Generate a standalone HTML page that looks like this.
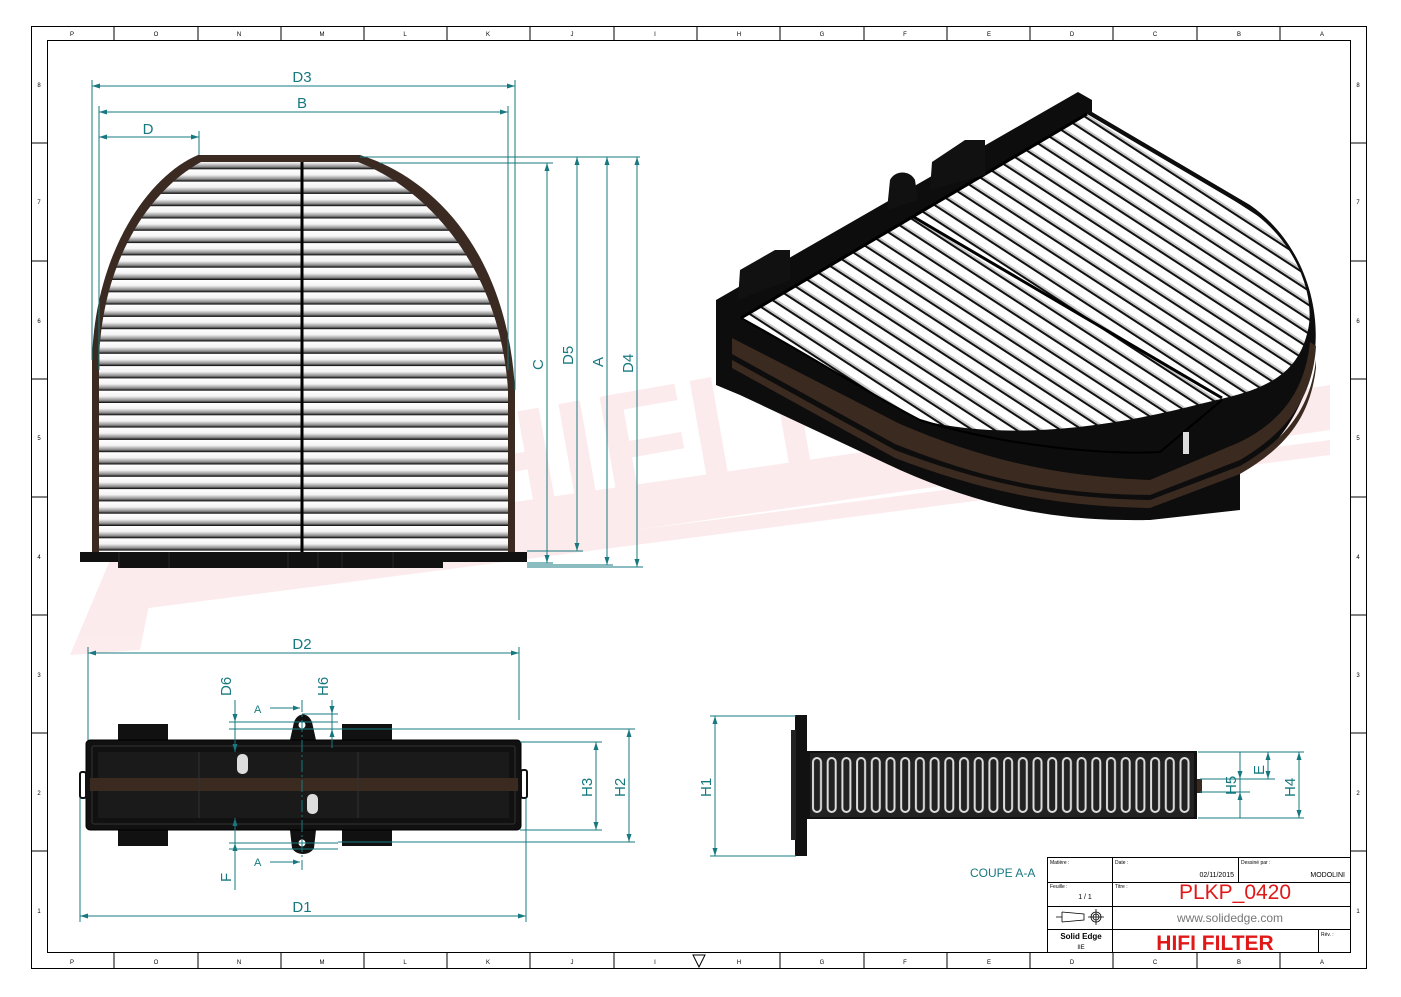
<!DOCTYPE html>
<html><head><meta charset="utf-8"><style>
html,body{margin:0;padding:0;background:#fff}
svg{display:block}
text{font-family:"Liberation Sans",sans-serif}
</style></head><body>
<svg width="1401" height="997" viewBox="0 0 1401 997" xmlns="http://www.w3.org/2000/svg">
<defs>
<linearGradient id="pg" x1="0" y1="0" x2="0" y2="1">
<stop offset="0" stop-color="#fff"/><stop offset="0.45" stop-color="#f4f4f4"/><stop offset="0.8" stop-color="#8a8a8a"/><stop offset="0.92" stop-color="#333"/><stop offset="1" stop-color="#000"/>
</linearGradient>
<pattern id="pleat" x="0" y="157" width="20" height="12.3" patternUnits="userSpaceOnUse">
<rect width="20" height="12.3" fill="url(#pg)"/>
</pattern>
<pattern id="iso" width="12" height="12" patternUnits="userSpaceOnUse" patternTransform="rotate(33)">
<rect width="12" height="12" fill="#fff"/><rect y="8" width="12" height="2" fill="#c8c8c8"/><rect y="10" width="12" height="2" fill="#111"/>
</pattern>
<pattern id="sec" x="810" y="753" width="14.7" height="64" patternUnits="userSpaceOnUse">
<rect width="14.7" height="64" fill="#222"/>
<rect x="3" y="5" width="8" height="54" rx="4" fill="none" stroke="#ddd" stroke-width="2"/>
</pattern>
<clipPath id="arch"><path d="M99 552 L99 360 C102 260 150 190 201 162 L358 162 C430 190 500 270 508 390 L508 552 Z"/></clipPath>
</defs>

<!-- watermark -->
<g opacity="0.08" fill="#e0102a">
<polygon points="70,655 110,560 1330,385 1330,430 150,600 140,650"/>
<polygon points="95,600 1330,440 1330,455 95,615"/>
<text x="440" y="500" font-size="150" font-weight="bold" font-family="Liberation Serif,serif" transform="rotate(-10 600 400)">HIFI FILTER</text>
</g>

<!-- borders -->
<rect x="31.5" y="26.5" width="1335" height="942" fill="none" stroke="#000"/>
<rect x="47.5" y="40.5" width="1303" height="912" fill="none" stroke="#000"/>
<g stroke="#000">
<line x1="114" y1="26" x2="114" y2="40"/><line x1="198" y1="26" x2="198" y2="40"/><line x1="281" y1="26" x2="281" y2="40"/><line x1="364" y1="26" x2="364" y2="40"/><line x1="447" y1="26" x2="447" y2="40"/><line x1="530" y1="26" x2="530" y2="40"/><line x1="614" y1="26" x2="614" y2="40"/><line x1="697" y1="26" x2="697" y2="40"/><line x1="780" y1="26" x2="780" y2="40"/><line x1="864" y1="26" x2="864" y2="40"/><line x1="947" y1="26" x2="947" y2="40"/><line x1="1030" y1="26" x2="1030" y2="40"/><line x1="1113" y1="26" x2="1113" y2="40"/><line x1="1197" y1="26" x2="1197" y2="40"/><line x1="1280" y1="26" x2="1280" y2="40"/>
<line x1="114" y1="953" x2="114" y2="969"/><line x1="198" y1="953" x2="198" y2="969"/><line x1="281" y1="953" x2="281" y2="969"/><line x1="364" y1="953" x2="364" y2="969"/><line x1="447" y1="953" x2="447" y2="969"/><line x1="530" y1="953" x2="530" y2="969"/><line x1="614" y1="953" x2="614" y2="969"/><line x1="780" y1="953" x2="780" y2="969"/><line x1="864" y1="953" x2="864" y2="969"/><line x1="947" y1="953" x2="947" y2="969"/><line x1="1030" y1="953" x2="1030" y2="969"/><line x1="1113" y1="953" x2="1113" y2="969"/><line x1="1197" y1="953" x2="1197" y2="969"/><line x1="1280" y1="953" x2="1280" y2="969"/>
<line x1="31" y1="143" x2="47" y2="143"/><line x1="31" y1="261" x2="47" y2="261"/><line x1="31" y1="379" x2="47" y2="379"/><line x1="31" y1="497" x2="47" y2="497"/><line x1="31" y1="615" x2="47" y2="615"/><line x1="31" y1="733" x2="47" y2="733"/><line x1="31" y1="851" x2="47" y2="851"/>
<line x1="1351" y1="143" x2="1367" y2="143"/><line x1="1351" y1="261" x2="1367" y2="261"/><line x1="1351" y1="379" x2="1367" y2="379"/><line x1="1351" y1="497" x2="1367" y2="497"/><line x1="1351" y1="615" x2="1367" y2="615"/><line x1="1351" y1="733" x2="1367" y2="733"/><line x1="1351" y1="851" x2="1367" y2="851"/>
</g>
<g font-size="6" fill="#000" text-anchor="middle">
<text x="72" y="964">P</text><text x="156" y="964">O</text><text x="239" y="964">N</text><text x="322" y="964">M</text><text x="405" y="964">L</text><text x="488" y="964">K</text><text x="572" y="964">J</text><text x="655" y="964">I</text><text x="739" y="964">H</text><text x="822" y="964">G</text><text x="905" y="964">F</text><text x="989" y="964">E</text><text x="1072" y="964">D</text><text x="1155" y="964">C</text><text x="1239" y="964">B</text><text x="1322" y="964">A</text>
<text x="72" y="36">P</text><text x="156" y="36">O</text><text x="239" y="36">N</text><text x="322" y="36">M</text><text x="405" y="36">L</text><text x="488" y="36">K</text><text x="572" y="36">J</text><text x="655" y="36">I</text><text x="739" y="36">H</text><text x="822" y="36">G</text><text x="905" y="36">F</text><text x="989" y="36">E</text><text x="1072" y="36">D</text><text x="1155" y="36">C</text><text x="1239" y="36">B</text><text x="1322" y="36">A</text>
<text x="1358" y="87">8</text><text x="1358" y="204">7</text><text x="1358" y="323">6</text><text x="1358" y="440">5</text><text x="1358" y="559">4</text><text x="1358" y="677">3</text><text x="1358" y="795">2</text><text x="1358" y="913">1</text>
<text x="39" y="87">8</text><text x="39" y="204">7</text><text x="39" y="323">6</text><text x="39" y="440">5</text><text x="39" y="559">4</text><text x="39" y="677">3</text><text x="39" y="795">2</text><text x="39" y="913">1</text>
</g>
<polygon points="693,955 705,955 699,967" fill="none" stroke="#000"/>

<!-- FRONT VIEW -->
<path d="M92 552 L92 360 C95 250 150 175 198 155 L360 155 C440 180 508 260 515 390 L515 552 Z" fill="#3a2a22"/>
<rect x="90" y="150" width="430" height="410" fill="url(#pleat)" clip-path="url(#arch)"/>
<line x1="302" y1="162" x2="302" y2="552" stroke="#000" stroke-width="3"/>
<rect x="80" y="552" width="447" height="10" fill="#111"/>
<rect x="118" y="560" width="325" height="8" fill="#111"/>
<g stroke="#333" stroke-width="0.7"><line x1="119" y1="552" x2="119" y2="568"/><line x1="169" y1="552" x2="169" y2="568"/><line x1="288" y1="552" x2="288" y2="568"/><line x1="318" y1="552" x2="318" y2="568"/><line x1="342" y1="552" x2="342" y2="568"/><line x1="393" y1="552" x2="393" y2="568"/></g>

<!-- dims front -->
<g stroke="#17797f" stroke-width="1" fill="none">
<line x1="92" y1="80" x2="92" y2="360"/><line x1="515" y1="80" x2="515" y2="390"/>
<line x1="99" y1="106" x2="99" y2="370"/><line x1="508" y1="106" x2="508" y2="370"/>
<line x1="199" y1="131" x2="199" y2="155"/>
<line x1="92" y1="86" x2="515" y2="86"/><line x1="99" y1="112" x2="508" y2="112"/><line x1="99" y1="137" x2="199" y2="137"/>
<line x1="360" y1="157" x2="640" y2="157"/><line x1="380" y1="163" x2="553" y2="163"/>
<line x1="527" y1="563" x2="553" y2="563"/><line x1="527" y1="551" x2="583" y2="551"/><line x1="527" y1="565" x2="613" y2="565"/><line x1="527" y1="567" x2="643" y2="567"/>
<line x1="547" y1="163" x2="547" y2="563"/><line x1="577" y1="157" x2="577" y2="551"/><line x1="607" y1="157" x2="607" y2="565"/><line x1="637" y1="157" x2="637" y2="567"/>
</g>
<g fill="#17797f">
<path d="M92 86 l8 -2.5 v5z M515 86 l-8 -2.5 v5z M99 112 l8 -2.5 v5z M508 112 l-8 -2.5 v5z M99 137 l8 -2.5 v5z M199 137 l-8 -2.5 v5z"/>
<path d="M547 163 l-2.5 8 h5z M547 563 l-2.5 -8 h5z M577 157 l-2.5 8 h5z M577 551 l-2.5 -8 h5z M607 157 l-2.5 8 h5z M607 565 l-2.5 -8 h5z M637 157 l-2.5 8 h5z M637 567 l-2.5 -8 h5z"/>
</g>
<g fill="#17797f" font-size="15">
<text x="302" y="82" text-anchor="middle">D3</text><text x="302" y="108" text-anchor="middle">B</text><text x="148" y="134" text-anchor="middle">D</text>
<text transform="translate(543 370) rotate(-90)">C</text>
<text transform="translate(573 365) rotate(-90)">D5</text>
<text transform="translate(603 367) rotate(-90)">A</text>
<text transform="translate(633 373) rotate(-90)">D4</text>
</g>

<!-- ISO VIEW -->
<path d="M716 300 L1078 92 L1092 100 L1092 112 L1250 205 C1300 240 1320 300 1315 350 C1310 400 1280 450 1240 470 L1240 510 L1150 520 C1050 522 980 505 900 470 L740 395 L716 385 Z" fill="#0d0d0d"/>
<path d="M732 338 L900 424 C980 458 1050 476 1150 480 L1240 442 C1280 422 1305 392 1310 342 L1316 346 C1313 396 1288 432 1240 460 L1150 495 C1050 494 980 478 895 444 L732 354 Z" fill="#3b2a20"/>
<path d="M732 360 L895 450 C980 482 1050 498 1150 500 L1240 466 C1285 440 1310 410 1316 360 L1316 368 C1310 418 1285 448 1240 474 L1150 508 C1050 506 980 490 895 458 L732 368 Z" fill="#3b2a20"/>
<path d="M741 318 L1087 114 L1250 210 C1300 245 1315 300 1308 330 C1300 365 1280 385 1225 398 L1200 404 C1100 430 1000 440 920 420 Z" fill="url(#iso)"/>
<path d="M741 318 C800 350 880 400 920 420 C1000 445 1100 455 1160 452 L1222 400" fill="none" stroke="#000" stroke-width="2"/>
<line x1="912" y1="216" x2="1222" y2="398" stroke="#000" stroke-width="3"/>
<line x1="741" y1="318" x2="1087" y2="114" stroke="#000" stroke-width="3"/>
<path d="M738 300 L740 270 L775 250 L790 250 L790 280Z M930 190 L932 162 L965 140 L985 140 L985 175Z M887 210 L890 180 C895 170 910 170 915 180 L918 200Z" fill="#111"/>
<rect x="1183" y="432" width="6" height="22" fill="#ddd"/>

<!-- SIDE VIEW -->
<rect x="118" y="724" width="50" height="18" fill="#111"/>
<rect x="342" y="724" width="50" height="18" fill="#111"/>
<rect x="118" y="828" width="50" height="18" fill="#111"/>
<rect x="342" y="828" width="50" height="18" fill="#111"/>
<path d="M290 740 L294 722 C298 712 308 712 312 722 L316 740Z M290 830 L316 830 L314 848 C310 856 296 856 292 848Z" fill="#111"/>
<circle cx="302" cy="725" r="3.5" fill="#fff"/><circle cx="302" cy="843" r="3.5" fill="#fff"/>
<rect x="86" y="740" width="435" height="90" rx="4" fill="#111" stroke="#000"/>
<rect x="92" y="746" width="423" height="78" rx="2" fill="none" stroke="#333"/>
<rect x="98" y="752" width="411" height="66" fill="#1a1a1a"/>
<rect x="90" y="778" width="428" height="13" fill="#3b2a20"/>
<g stroke="#333"><line x1="199" y1="752" x2="199" y2="818"/><line x1="358" y1="752" x2="358" y2="818"/></g>
<rect x="237" y="754" width="11" height="20" rx="5" fill="#ddd"/>
<rect x="307" y="794" width="11" height="20" rx="5" fill="#ddd"/>
<rect x="80" y="772" width="6" height="26" rx="2" fill="none" stroke="#111" stroke-width="2"/>
<rect x="521" y="770" width="6" height="28" rx="2" fill="none" stroke="#111" stroke-width="2"/>
<g stroke="#17797f" stroke-width="1" fill="none">
<line x1="302" y1="700" x2="302" y2="870" stroke-dasharray="12 3 2 3"/>
<line x1="88" y1="647" x2="88" y2="740"/><line x1="519" y1="647" x2="519" y2="720"/>
<line x1="88" y1="653" x2="519" y2="653"/>
<line x1="80" y1="798" x2="80" y2="922"/><line x1="526" y1="798" x2="526" y2="922"/>
<line x1="80" y1="916" x2="526" y2="916"/>
<line x1="229" y1="722" x2="338" y2="722"/><line x1="229" y1="729" x2="338" y2="729"/><line x1="302" y1="714" x2="338" y2="714"/>
<line x1="229" y1="843" x2="338" y2="843"/><line x1="229" y1="849" x2="338" y2="849"/>
<line x1="235" y1="700" x2="235" y2="752"/><line x1="235" y1="818" x2="235" y2="890"/>
<line x1="332" y1="700" x2="332" y2="748"/>
<line x1="270" y1="708" x2="300" y2="708"/><line x1="270" y1="862" x2="300" y2="862"/>
<line x1="338" y1="729" x2="635" y2="729"/><line x1="520" y1="742" x2="602" y2="742"/><line x1="520" y1="830" x2="602" y2="830"/><line x1="338" y1="842" x2="635" y2="842"/>
<line x1="596" y1="742" x2="596" y2="830"/><line x1="629" y1="729" x2="629" y2="842"/>
</g>
<g fill="#17797f">
<path d="M88 653 l8 -2.5 v5z M519 653 l-8 -2.5 v5z M80 916 l8 -2.5 v5z M526 916 l-8 -2.5 v5z"/>
<path d="M596 742 l-2.5 8 h5z M596 830 l-2.5 -8 h5z M629 729 l-2.5 8 h5z M629 842 l-2.5 -8 h5z"/>
<path d="M235 722 l-2.5 -8 h5z M235 752 l-2.5 -8 h5z M235 843 l-2.5 8 h5z M235 818 l-2.5 8 h5z M332 714 l-2.5 -8 h5z M332 729 l-2.5 8 h5z M300 708 l-7 -2.5 v5z M300 862 l-7 -2.5 v5z"/>
</g>
<g fill="#17797f" font-size="15">
<text x="302" y="649" text-anchor="middle">D2</text><text x="302" y="912" text-anchor="middle">D1</text>
<text transform="translate(231 696) rotate(-90)">D6</text>
<text transform="translate(328 696) rotate(-90)">H6</text>
<text transform="translate(231 882) rotate(-90)">F</text>
<text transform="translate(592 797) rotate(-90)">H3</text>
<text transform="translate(625 797) rotate(-90)">H2</text>
<text x="254" y="713" font-size="11">A</text><text x="254" y="866" font-size="11">A</text>
</g>

<!-- SECTION -->
<rect x="795" y="715" width="12" height="141" fill="#111"/>
<rect x="791" y="730" width="5" height="110" fill="#222"/>
<rect x="807" y="751" width="390" height="68" fill="#111"/>
<rect x="810" y="753" width="384" height="64" fill="url(#sec)"/>
<rect x="1197" y="779" width="5" height="14" fill="#3b2a20"/>
<g stroke="#17797f" stroke-width="1" fill="none">
<line x1="710" y1="716" x2="796" y2="716"/><line x1="710" y1="856" x2="796" y2="856"/><line x1="715" y1="716" x2="715" y2="856"/>
<line x1="1198" y1="752" x2="1304" y2="752"/><line x1="1198" y1="818" x2="1304" y2="818"/>
<line x1="1200" y1="779" x2="1275" y2="779"/><line x1="1200" y1="792" x2="1250" y2="792"/>
<line x1="1240" y1="752" x2="1240" y2="818"/><line x1="1268" y1="752" x2="1268" y2="779"/><line x1="1299" y1="752" x2="1299" y2="818"/>
</g>
<g fill="#17797f">
<path d="M715 716 l-2.5 8 h5z M715 856 l-2.5 -8 h5z M1299 752 l-2.5 8 h5z M1299 818 l-2.5 -8 h5z M1240 779 l-2.5 -8 h5z M1240 792 l-2.5 8 h5z M1268 779 l-2.5 -8 h5z M1268 752 l-2.5 8 h5z"/>
</g>
<g fill="#17797f" font-size="15">
<text transform="translate(711 797) rotate(-90)">H1</text>
<text transform="translate(1236 795) rotate(-90)">H5</text>
<text transform="translate(1264 775) rotate(-90)">E</text>
<text transform="translate(1295 797) rotate(-90)">H4</text>
<text x="970" y="877" font-size="12">COUPE A-A</text>
</g>

<!-- TITLE BLOCK -->
<g stroke="#000" fill="none" stroke-width="1">
<rect x="1047.5" y="857.5" width="303" height="95"/>
<line x1="1047" y1="882.5" x2="1351" y2="882.5"/><line x1="1047" y1="906.5" x2="1351" y2="906.5"/><line x1="1047" y1="929.5" x2="1351" y2="929.5"/>
<line x1="1112.5" y1="857" x2="1112.5" y2="953"/><line x1="1238.5" y1="857" x2="1238.5" y2="882"/><line x1="1318.5" y1="929" x2="1318.5" y2="953"/>
</g>
<g font-size="5" fill="#000">
<text x="1050" y="864">Matière :</text><text x="1115" y="864">Date :</text><text x="1241" y="864">Dessiné par :</text>
<text x="1050" y="888">Feuille :</text><text x="1115" y="888">Titre :</text><text x="1321" y="936">Rév. :</text>
</g>
<text x="1234" y="877" font-size="7" text-anchor="end">02/11/2015</text>
<text x="1345" y="877" font-size="7" text-anchor="end">MODOLINI</text>
<text x="1085" y="899" font-size="7" text-anchor="middle">1 / 1</text>
<text x="1235" y="899" font-size="21" fill="#e01818" text-anchor="middle">PLKP_0420</text>
<text x="1230" y="922" font-size="12" fill="#777" text-anchor="middle">www.solidedge.com</text>
<text x="1215" y="950" font-size="21" font-weight="bold" fill="#e01818" text-anchor="middle">HIFI FILTER</text>
<text x="1081" y="939" font-size="8" font-weight="bold" text-anchor="middle">Solid Edge</text>
<text x="1081" y="949" font-size="6" text-anchor="middle">IIE</text>
<g stroke="#000" fill="none" stroke-width="0.8"><path d="M1056 917 h6 M1062 912 v10 M1062 912 l22 2 v6 l-22 2"/><circle cx="1096" cy="917" r="5"/><circle cx="1096" cy="917" r="3"/><path d="M1088 917 h16 M1096 909 v16"/></g>
</svg>
</body></html>
